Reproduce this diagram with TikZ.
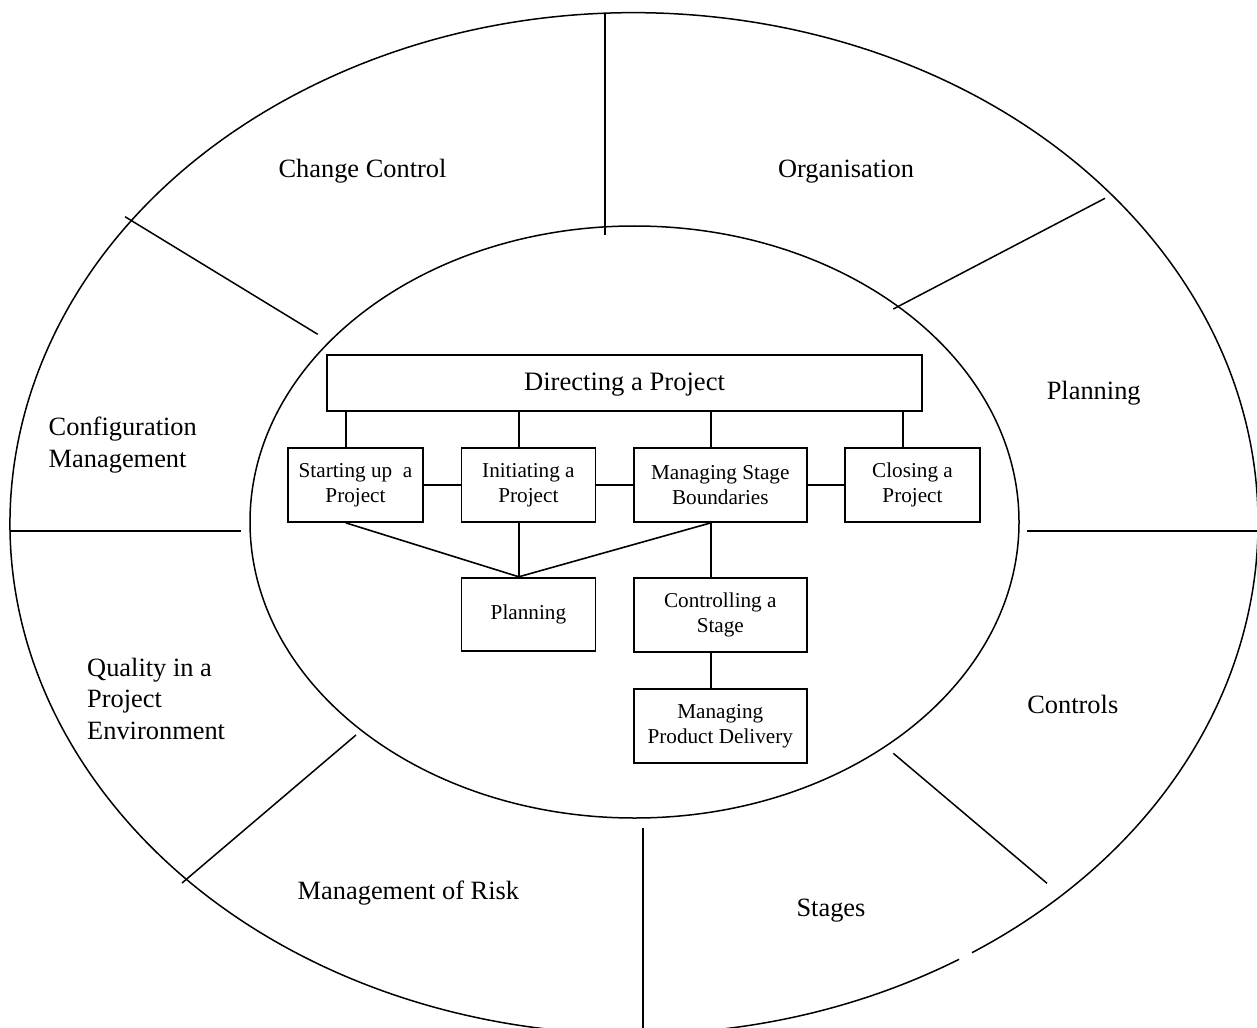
\documentclass[tikz,border=0pt]{standalone}
\usepackage{fontspec}
\setmainfont{Liberation Serif}
\usetikzlibrary{calc}
\begin{document}
\begin{tikzpicture}[x=0.5pt,y=-0.5pt,
  ring/.style={line width=0.75pt},
  divider/.style={line width=0.75pt},
  link/.style={line width=0.8pt},
  proc/.style={draw, line width=0.9pt, align=center, inner sep=0pt,
    font=\fontsize{10.6pt}{12.5pt}\selectfont},
  area/.style={inner sep=0pt, font=\fontsize{13.2pt}{15.8pt}\selectfont}]
\useasboundingbox (0,0) rectangle (1257,1027);
\clip (0,0) rectangle (1257,1027);

% outer ring (with its small break low on the right) and inner ring
\coordinate (oc) at (634,523.4);
\coordinate (ic) at (634.5,522);
\draw[ring] ([shift={(-57.2:312pt and 255.35pt)}]oc)
  arc[start angle=-57.2, end angle=301.4, x radius=312pt, y radius=255.35pt];
\draw[ring] (ic) ellipse[x radius=192.25pt, y radius=148pt];

% dividers between the outer segments
\coordinate (d1a) at (605,13);     \coordinate (d1b) at (605,235);
\coordinate (d2a) at (125,216.7);  \coordinate (d2b) at (317.7,334.3);
\coordinate (d3a) at (1105,198.3); \coordinate (d3b) at (893.3,309);
\coordinate (d4a) at (10,531);     \coordinate (d4b) at (241,531);
\coordinate (d5a) at (1027,531);   \coordinate (d5b) at (1257,531);
\coordinate (d6a) at (182,883);    \coordinate (d6b) at (356,735);
\coordinate (d7a) at (893.3,753.3);\coordinate (d7b) at (1047,883.3);
\coordinate (d8a) at (643,827.7);  \coordinate (d8b) at (643,1030);
\foreach \d in {d1,d2,d3,d4,d5,d6,d7,d8}
  \draw[divider] (\d a) -- (\d b);

% outer segment labels (multi-line ones sit on the baseline of their last line)
\node[area, anchor=base] (lchange) at (362.5,177.3) {Change Control};
\node[area, anchor=base] (lorg) at (846,177.3) {Organisation};
\node[area, anchor=base] (lplan) at (1093.7,399.5) {Planning};
\node[area, anchor=base west, align=left] (lconf) at (48.3,467.5) {Configuration\\Management};
\node[area, anchor=base west, align=left] (lqual) at (86.8,739.5) {Quality in a\\Project\\Environment};
\node[area, anchor=base] (lctrl) at (1072.8,713.3) {Controls};
\node[area, anchor=base] (lrisk) at (408.4,899.3) {Management of Risk};
\node[area, anchor=base] (lstage) at (831,916.7) {Stages};

% process boxes
\node[proc, minimum width=297.5pt, minimum height=28pt, text depth=1.5pt,
  font=\fontsize{13.3pt}{15.8pt}\selectfont] (dir) at (624.5,383) {Directing a Project};
\node[proc, minimum width=67.5pt, minimum height=37pt] (start) at (355.5,485) {Starting up\ \ a\\Project};
\node[proc, minimum width=67pt, minimum height=37pt] (init) at (528.4,485) {Initiating a\\Project};
\node[proc, minimum width=86.3pt, minimum height=37pt] (msb) at (720.3,485) {Managing Stage\\Boundaries};
\node[proc, minimum width=67.75pt, minimum height=37pt] (close) at (912.5,485) {Closing a\\Project};
\node[proc, minimum width=67pt, minimum height=36.7pt] (plan) at (528.4,614.4) {Planning};
\node[proc, minimum width=86.3pt, minimum height=37pt] (ctrl) at (720.3,614.7) {Controlling a\\Stage};
\node[proc, minimum width=86.3pt, minimum height=37pt] (mpd) at (720.3,726) {Managing\\Product Delivery};

% connectors
\foreach \n in {start,init,msb,close} {
  \coordinate (\n-top) at ([xshift=-4.8pt]\n.north);
  \draw[link] (\n-top) -- (\n-top |- dir.south);
}
\draw[link] (start.east) -- (init.west);
\draw[link] (init.east) -- (msb.west);
\draw[link] (msb.east) -- (close.west);

\coordinate (start-bot) at ([xshift=-4.8pt]start.south);
\coordinate (init-bot) at ([xshift=-4.8pt]init.south);
\coordinate (msb-bot) at ([xshift=-4.8pt]msb.south);
\coordinate (plan-top) at ([xshift=-4.8pt]plan.north);
\coordinate (ctrl-bot) at ([xshift=-4.8pt]ctrl.south);
\draw[link] (start-bot) -- (plan-top);
\draw[link] (init-bot) -- (plan-top);
\draw[link] (msb-bot) -- (plan-top);
\draw[link] (msb-bot) -- (msb-bot |- ctrl.north);
\draw[link] (ctrl-bot) -- (ctrl-bot |- mpd.north);
\end{tikzpicture}
\end{document}
